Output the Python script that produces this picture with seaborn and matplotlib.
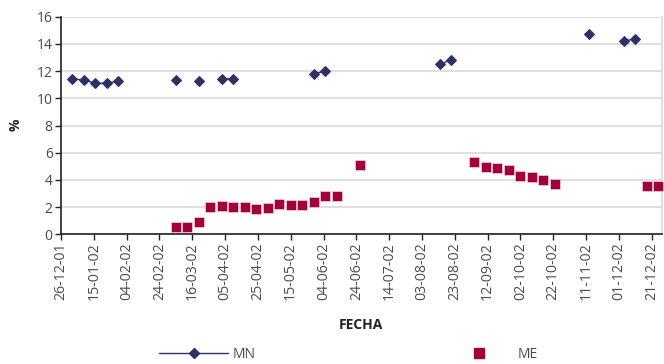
import matplotlib
matplotlib.use("Agg")
import matplotlib.pyplot as plt
import matplotlib.dates as mdates
from matplotlib.lines import Line2D
import numpy as np
import pandas as pd
import seaborn as sns

# Weekly observations (Wednesdays), 2002
mn_fechas = ["2002-01-02", "2002-01-09", "2002-01-16", "2002-01-23", "2002-01-30",
             "2002-03-06", "2002-03-20", "2002-04-03", "2002-04-10",
             "2002-05-29", "2002-06-05", "2002-08-14", "2002-08-21",
             "2002-11-13", "2002-12-04", "2002-12-11"]
mn_valores = [11.42, 11.35, 11.10, 11.12, 11.27,
              11.32, 11.30, 11.42, 11.44,
              11.81, 11.98, 12.50, 12.84,
              14.70, 14.19, 14.38]

me_fechas = ["2002-03-06", "2002-03-13", "2002-03-20", "2002-03-27", "2002-04-03",
             "2002-04-10", "2002-04-17", "2002-04-24", "2002-05-01", "2002-05-08",
             "2002-05-15", "2002-05-22", "2002-05-29", "2002-06-05", "2002-06-12",
             "2002-06-26", "2002-09-04", "2002-09-11", "2002-09-18", "2002-09-25",
             "2002-10-02", "2002-10-09", "2002-10-16", "2002-10-23",
             "2002-12-18", "2002-12-25"]
me_valores = [0.56, 0.56, 0.93, 2.03, 2.06,
              2.01, 2.01, 1.88, 1.96, 2.25,
              2.15, 2.15, 2.35, 2.82, 2.82,
              5.12, 5.29, 4.97, 4.90, 4.75,
              4.31, 4.19, 3.99, 3.68,
              3.55, 3.55]

ticks_inicio = "2001-12-26"
ticks_fin = "2002-12-21"
x_min, x_max = "2001-12-26", "2002-12-27"

COLOR_MN = "#2E3068"
COLOR_ME = "#A3003A"
COLOR_TXT = "#4a4a4a"

sns.set_theme(style="whitegrid")
plt.rcParams["font.family"] = ["Open Sans", "DejaVu Sans"]

mn = pd.DataFrame({"fecha": pd.to_datetime(mn_fechas), "valor": mn_valores})
# consecutive weeks are joined by a line; gaps break it
mn["tramo"] = (mn["fecha"].diff().dt.days != 7).cumsum()
me = pd.DataFrame({"fecha": pd.to_datetime(me_fechas), "valor": me_valores})

fig = plt.figure(figsize=(6.64, 3.64), dpi=100)
ax = fig.add_axes([61 / 664, 129.7 / 364, 600.5 / 664, 217.6 / 364])

sns.lineplot(data=mn, x="fecha", y="valor", units="tramo", estimator=None,
             color=COLOR_MN, lw=1.0, marker="D", markersize=5.2,
             markeredgecolor=COLOR_MN, ax=ax, legend=False, zorder=3)
sns.scatterplot(data=me, x="fecha", y="valor", marker="s", s=52,
                color=COLOR_ME, edgecolor="#f3d0da", linewidth=0.5,
                ax=ax, legend=False, zorder=3, clip_on=False)

ax.set_ylim(0, 16)
ax.set_yticks(np.arange(0, 17, 2))
ax.set_xlim(pd.Timestamp(x_min), pd.Timestamp(x_max))
ax.set_xticks(pd.date_range(ticks_inicio, ticks_fin, freq="20D"))
ax.xaxis.set_major_formatter(mdates.DateFormatter("%d-%m-%y"))
ax.tick_params(axis="x", rotation=90, labelsize=10.2, colors=COLOR_TXT,
               length=4, width=1, bottom=True, pad=2, color="#222222")
ax.tick_params(axis="y", labelsize=10, colors=COLOR_TXT, length=4, width=1,
               left=True, pad=2, color="#222222")

ax.grid(axis="y", color="#dcdcdc", lw=1.3)
ax.grid(axis="x", visible=False)
for s in ("left", "bottom"):
    ax.spines[s].set_color("#222222")
    ax.spines[s].set_linewidth(1.2)
for s in ("top", "right"):
    ax.spines[s].set_color("#d9d9d9")
    ax.spines[s].set_linewidth(1.2)
ax.spines["top"].set_visible(False)

ax.set_xlabel("")
ax.set_ylabel("")
fig.text(361 / 664, 1 - 325 / 364, "FECHA", ha="center", va="center",
         fontsize=10, fontweight="bold", color="#222222")
fig.text(16 / 664, 1 - 125 / 364, "%", ha="center", va="center", rotation=90,
         fontsize=10, fontweight="bold", color="#222222")

handles = [
    Line2D([], [], color=COLOR_MN, lw=1.0, marker="D", markersize=5.2),
    Line2D([], [], color="none", marker="s", markersize=7.2,
           markerfacecolor=COLOR_ME, markeredgecolor=COLOR_ME),
]
fig.legend(handles, ["MN", "ME"], loc="center left",
           bbox_to_anchor=(159 / 664, 1 - 354 / 364), ncol=2, frameon=False,
           fontsize=10, handlelength=5.0, handletextpad=0.3,
           columnspacing=13.6, labelcolor=COLOR_TXT, borderpad=0,
           borderaxespad=0)

fig.savefig("out.png", dpi=100)
